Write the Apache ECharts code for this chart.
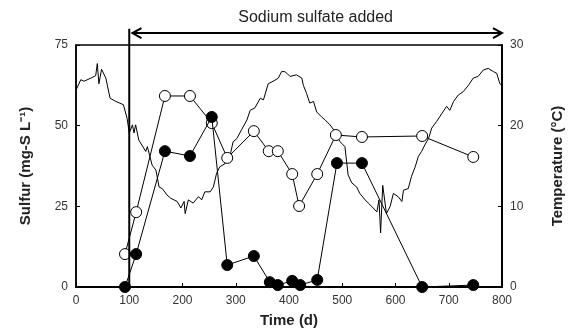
<!DOCTYPE html>
<html>
<head>
<meta charset="utf-8">
<script src="https://cdn.jsdelivr.net/npm/echarts@6/dist/echarts.min.js"></script>
<style>
html,body{margin:0;padding:0;background:#fff;}
#main{width:568px;height:332px;}
</style>
</head>
<body>
<div id="main"></div>
<script>
// sulfur samples (open and filled circles)
var openDays = [92, 113, 167, 214, 255, 284, 334, 362, 379, 406, 419, 453, 488, 537, 650, 746];
var openS = [10.2, 23.2, 59.2, 59.2, 50.8, 40, 48.3, 42.1, 42.1, 35, 25.1, 35, 47.1, 46.5, 46.8, 40.3];
var fillDays = [92, 113, 167, 214, 255, 284, 334, 364, 379, 406, 421, 453, 490, 537, 650, 746];
var fillS = [0, 10.2, 42.1, 40.6, 52.7, 6.8, 9.6, 1.5, 0.6, 1.9, 0.6, 2.2, 38.4, 38.4, 0, 0.6];

// temperature trace
var tempDays = [0, 2, 9, 15, 28, 37, 40, 43, 48, 56, 64, 75, 89, 96, 100, 106, 109, 112, 118, 131, 134, 143, 150, 156, 162, 171, 178, 190, 197, 203, 205, 211, 220, 230, 236, 242, 252, 258, 264, 270, 280, 289, 295, 302, 311, 321, 327, 336, 346, 352, 361, 370, 380, 386, 392, 396, 402, 414, 424, 427, 433, 439, 446, 452, 461, 468, 477, 486, 496, 505, 511, 518, 527, 533, 543, 549, 558, 565, 569, 572, 576, 583, 590, 596, 605, 612, 615, 624, 630, 637, 643, 649, 655, 662, 668, 677, 687, 696, 702, 709, 718, 727, 737, 746, 755, 765, 774, 784, 790, 796, 800];
var tempC = [24.4, 24.6, 25.7, 25.5, 25.9, 26.2, 27.7, 25.2, 27.0, 25.9, 23.4, 23.0, 22.6, 20.9, 19.1, 20.1, 19.1, 20.1, 18.2, 16.8, 17.4, 15.1, 14.5, 12.4, 12.2, 11.4, 11.0, 10.6, 9.8, 10.6, 9.1, 10.8, 10.4, 11.2, 10.8, 11.8, 11.8, 12.4, 14.1, 14.9, 15.3, 16.2, 18.0, 18.4, 19.5, 20.7, 21.9, 22.2, 23.4, 23.2, 25.2, 25.5, 25.9, 26.7, 26.7, 26.5, 26.1, 26.3, 25.9, 25.0, 24.0, 22.8, 23.0, 21.7, 21.1, 20.7, 20.1, 19.3, 18.0, 17.4, 13.9, 12.9, 12.4, 11.6, 10.8, 10.4, 9.8, 9.3, 10.8, 6.7, 12.6, 9.1, 10.0, 11.6, 11.2, 10.6, 12.0, 12.2, 13.7, 14.9, 16.2, 16.8, 17.6, 18.4, 19.7, 20.5, 21.5, 22.4, 21.9, 23.0, 23.8, 24.2, 25.0, 25.9, 26.1, 26.9, 27.1, 26.7, 26.5, 25.2, 25.0];

var xTicks = [0, 800, 100];
var sulfurTicks = [0, 75, 25];
var tempTicks = [0, 30, 10];

function zip(a, b) {
    return a.map(function (v, i) { return [v, b[i]]; });
}

var axisFont = { fontFamily: 'Liberation Sans', fontSize: 12, color: '#333' };
var nameFont = { fontFamily: 'Liberation Sans', fontSize: 15, fontWeight: 'bold', color: '#222' };

option = {
    animation: false,
    grid: { left: 76, right: 66, top: 45, bottom: 45, outerBoundsMode: 'none', show: true, borderColor: '#000', borderWidth: 1.5 },
    xAxis: {
        type: 'value',
        min: xTicks[0], max: xTicks[1], interval: xTicks[2],
        name: 'Time (d)', nameLocation: 'middle', nameGap: 26, nameTextStyle: nameFont,
        axisLine: { show: true, lineStyle: { color: '#000', width: 2 } },
        axisTick: { show: true, inside: true, length: 4, lineStyle: { color: '#000' } },
        axisLabel: axisFont,
        splitLine: { show: false }
    },
    yAxis: [{
        type: 'value',
        min: sulfurTicks[0], max: sulfurTicks[1], interval: sulfurTicks[2],
        name: 'Sulfur (mg-S L\u207B\u00B9)', nameLocation: 'middle', nameGap: 43, nameTextStyle: nameFont,
        axisLine: { show: true, lineStyle: { color: '#000', width: 1.5 } },
        axisTick: { show: true, inside: true, length: 4, lineStyle: { color: '#000' } },
        axisLabel: axisFont,
        splitLine: { show: false }
    }, {
        type: 'value',
        min: tempTicks[0], max: tempTicks[1], interval: tempTicks[2],
        name: 'Temperature (\u00B0C)', nameLocation: 'middle', nameGap: 48, nameRotate: 90, nameTextStyle: nameFont,
        axisLine: { show: true, lineStyle: { color: '#000', width: 2 } },
        axisTick: { show: true, inside: true, length: 4, lineStyle: { color: '#000' } },
        axisLabel: axisFont,
        splitLine: { show: false }
    }],
    series: [{
        name: 'Temperature',
        type: 'line',
        yAxisIndex: 1,
        data: zip(tempDays, tempC),
        symbol: 'none',
        lineStyle: { color: '#000', width: 1 },
        z: 1
    }, {
        name: 'open',
        type: 'line',
        yAxisIndex: 0,
        data: zip(openDays, openS),
        symbol: 'circle', symbolSize: 11,
        itemStyle: { color: '#fff', borderColor: '#000', borderWidth: 1 },
        lineStyle: { color: '#000', width: 1 },
        z: 3
    }, {
        name: 'filled',
        type: 'line',
        yAxisIndex: 0,
        data: zip(fillDays, fillS),
        symbol: 'circle', symbolSize: 11,
        itemStyle: { color: '#000', borderColor: '#000', borderWidth: 1 },
        lineStyle: { color: '#000', width: 1 },
        z: 4
    }]
};

var dom = document.getElementById('main');
var myChart = echarts.init(dom);
myChart.setOption(option);

// annotation: start of sodium sulfate addition
var p0 = myChart.convertToPixel({ xAxisIndex: 0, yAxisIndex: 0 }, [100, 0]);
var pTop = myChart.convertToPixel({ xAxisIndex: 0, yAxisIndex: 0 }, [100, 80]);
var pArrowL = myChart.convertToPixel({ xAxisIndex: 0, yAxisIndex: 0 }, [106, 78.7]);
var pArrowR = myChart.convertToPixel({ xAxisIndex: 0, yAxisIndex: 0 }, [800, 78.7]);
var pText = myChart.convertToPixel({ xAxisIndex: 0, yAxisIndex: 0 }, [450, 83.5]);

myChart.setOption({
    graphic: [
        { type: 'line', shape: { x1: p0[0], y1: p0[1], x2: pTop[0], y2: pTop[1] }, style: { stroke: '#000', lineWidth: 2 }, z: 10 },
        { type: 'line', shape: { x1: pArrowL[0], y1: pArrowL[1], x2: pArrowR[0], y2: pArrowR[1] }, style: { stroke: '#000', lineWidth: 2 }, z: 10 },
        { type: 'polyline', shape: { points: [[pArrowL[0] + 9, pArrowL[1] - 5], [pArrowL[0], pArrowL[1]], [pArrowL[0] + 9, pArrowL[1] + 5]] }, style: { stroke: '#000', lineWidth: 2, fill: null }, z: 10 },
        { type: 'polyline', shape: { points: [[pArrowR[0] - 9, pArrowR[1] - 5], [pArrowR[0], pArrowR[1]], [pArrowR[0] - 9, pArrowR[1] + 5]] }, style: { stroke: '#000', lineWidth: 2, fill: null }, z: 10 },
        { type: 'text', x: pText[0], y: pText[1], style: { text: 'Sodium sulfate added', font: '16px "Liberation Sans"', fill: '#222', align: 'center', verticalAlign: 'middle' }, z: 10 }
    ]
});
</script>
</body>
</html>
